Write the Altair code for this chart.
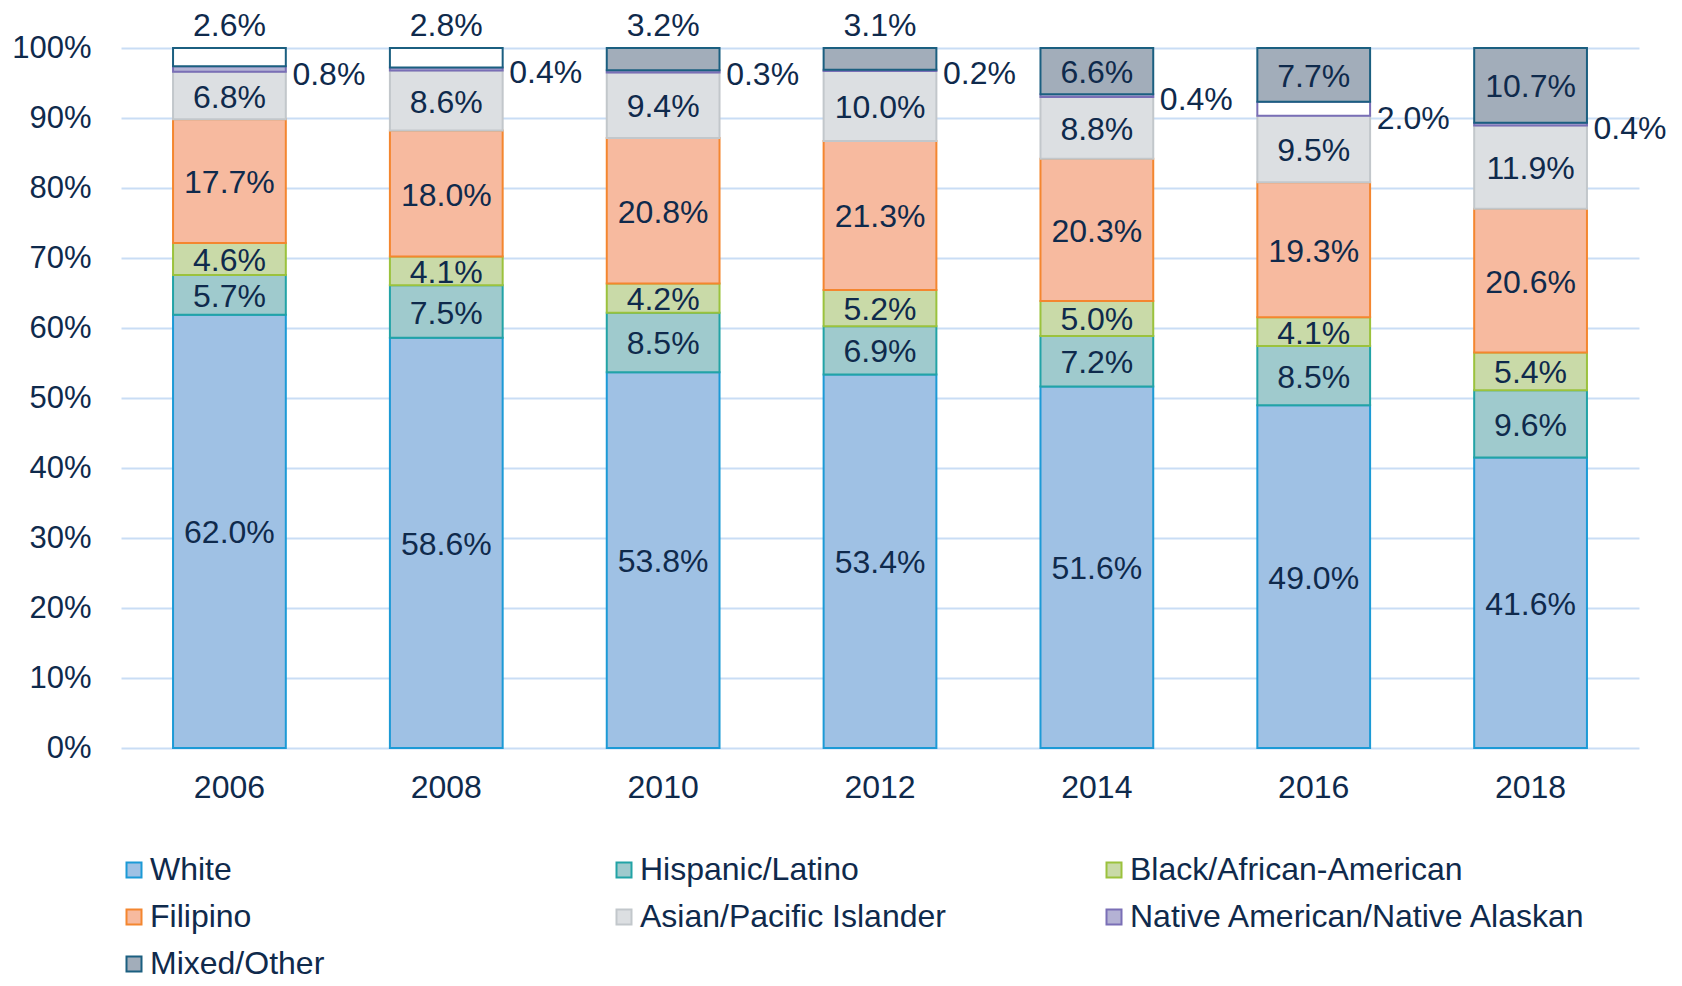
import altair as alt
import pandas as pd

years = ["2006", "2008", "2010", "2012", "2014", "2016", "2018"]
groups = ["White", "Hispanic/Latino", "Black/African-American", "Filipino",
          "Asian/Pacific Islander", "Native American/Native Alaskan", "Mixed/Other"]

white = [62.0, 58.6, 53.8, 53.4, 51.6, 49.0, 41.6]
hispanic = [5.7, 7.5, 8.5, 6.9, 7.2, 8.5, 9.6]
black = [4.6, 4.1, 4.2, 5.2, 5.0, 4.1, 5.4]
filipino = [17.7, 18.0, 20.8, 21.3, 20.3, 19.3, 20.6]
asian = [6.8, 8.6, 9.4, 10.0, 8.8, 9.5, 11.9]
native = [0.8, 0.4, 0.3, 0.2, 0.4, 2.0, 0.4]
mixed = [2.6, 2.8, 3.2, 3.1, 6.6, 7.7, 10.7]
series = [white, hispanic, black, filipino, asian, native, mixed]

# label placement per series/year
native_pos = ["right"] * 7
mixed_pos = ["above", "above", "above", "above", "inside", "inside", "inside"]
# segments drawn with white fill in the original
hollow_cells = [("2006", "Mixed/Other"), ("2008", "Mixed/Other"),
                ("2016", "Native American/Native Alaskan")]

fills = ["#9fc1e4", "#9fcacd", "#c9daa8", "#f7ba9f", "#dcdfe2", "#b4b2d4", "#a2adba"]
strokes = ["#1c9ad6", "#22a3a6", "#9bc23d", "#f4862f", "#c2c7cb", "#7a6fb6", "#1b5f80"]
text_color = "#0f2a4c"
grid_color = "#c9ddf5"
FONT = "Liberation Sans"

rows = []
for gi, g in enumerate(groups):
    for yi, yr in enumerate(years):
        if g == "Native American/Native Alaskan":
            pos = native_pos[yi]
        elif g == "Mixed/Other":
            pos = mixed_pos[yi]
        else:
            pos = "inside"
        rows.append(dict(year=yr, group=g, order=gi, value=series[gi][yi],
                         pos=pos, hollow=(yr, g) in hollow_cells))
df = pd.DataFrame(rows)

base = alt.Chart(df).transform_stack(
    stack="value", groupby=["year"], as_=["y0", "y1"],
    sort=[alt.SortField("order", order="ascending")], offset="normalize"
).transform_calculate(
    mid="(datum.y0 + datum.y1) / 2",
    label="format(datum.value, '.1f') + '%'"
)

x_enc = alt.X("year:N", sort=years,
              scale=alt.Scale(paddingInner=0.48, paddingOuter=0.24),
              axis=alt.Axis(title=None, labelAngle=0, ticks=False, domain=False,
                            labelFontSize=32, labelFont=FONT, labelColor=text_color,
                            labelPadding=24, grid=False))
y_axis = alt.Axis(title=None, format="%", values=[i / 10 for i in range(11)],
                  ticks=False, domain=False, labelFontSize=31, labelFont=FONT,
                  labelColor=text_color, labelPadding=30, gridColor=grid_color,
                  gridWidth=2)
y_scale = alt.Scale(domain=[0, 1], nice=False)

legend_kw = dict(title=None, orient="none", direction="horizontal",
                 legendX=-3, legendY=806, columns=3, padding=0,
                 gridAlign="all", columnPadding=-12, rowPadding=15,
                 symbolType="square", symbolSize=225, symbolStrokeWidth=2,
                 labelFontSize=32, labelFont=FONT, labelColor=text_color,
                 labelOffset=0, labelLimit=600)

bars = base.mark_bar(strokeWidth=2).encode(
    x=x_enc,
    y=alt.Y("y0:Q", scale=y_scale, axis=y_axis),
    y2="y1:Q",
    fill=alt.condition("datum.hollow", alt.value("white"),
                       alt.Fill("group:N", scale=alt.Scale(domain=groups, range=fills),
                                legend=alt.Legend(**legend_kw))),
    stroke=alt.Stroke("group:N", scale=alt.Scale(domain=groups, range=strokes),
                      legend=alt.Legend(**legend_kw)),
)

txt = dict(fontSize=32, font=FONT, color=text_color)

inside = base.transform_filter("datum.pos == 'inside'").mark_text(
    baseline="middle", dy=2, **txt).encode(
    x=x_enc, y=alt.Y("mid:Q", scale=y_scale, axis=y_axis), text="label:N")

above = base.transform_filter("datum.pos == 'above'").mark_text(
    baseline="middle", dy=-22, **txt).encode(
    x=x_enc, y=alt.Y("y1:Q", scale=y_scale, axis=y_axis), text="label:N")

right = base.transform_filter("datum.pos == 'right'").mark_text(
    baseline="middle", align="left", dx=63, dy=3, **txt).encode(
    x=x_enc, y=alt.Y("y0:Q", scale=y_scale, axis=y_axis), text="label:N")

chart = alt.layer(bars, inside, above, right).properties(
    width=1518, height=700,
    autosize=alt.AutoSizeParams(type="none"),
    padding={"left": 113, "top": 40, "right": 35, "bottom": 238},
).configure_view(stroke=None)

chart.save("out.html", embed_options={"renderer": "svg", "actions": False})
